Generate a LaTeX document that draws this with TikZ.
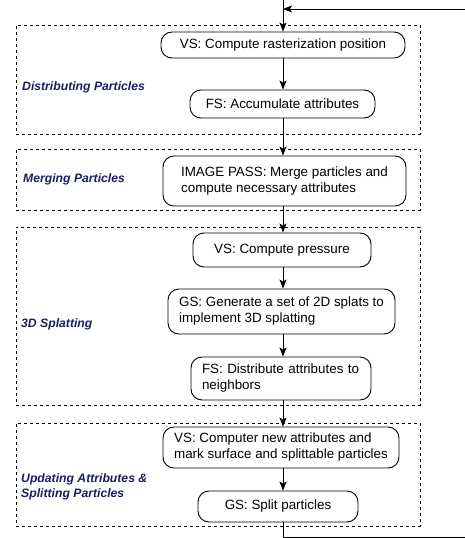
\documentclass[tikz,border=0pt]{standalone}
\usepackage{fontspec}
\setmainfont{Liberation Sans}
\usetikzlibrary{arrows.meta}
\definecolor{labelnavy}{RGB}{28,28,100}
\begin{document}
\begin{tikzpicture}[x=1pt,y=-1pt,
  stepbox/.style={draw, line width=0.9pt, rounded corners=11pt, font=\fontsize{13.4}{16}\selectfont, inner sep=0pt, align=left},
  groupbox/.style={draw, dashed, line width=0.8pt, inner sep=0pt},
  grouplabel/.style={anchor=west, font=\fontsize{12.2}{15}\selectfont\bfseries\itshape, text=labelnavy, align=left, inner sep=0pt},
  flow/.style={line width=0.9pt, -{Stealth[length=9pt,width=7pt,inset=2pt]}},
  loopline/.style={line width=0.9pt}]
\useasboundingbox (0,0) rectangle (465,538);
% groups
\node[groupbox, minimum width=404, minimum height=109] (g1) at (218,79.5) {};
\node[groupbox, minimum width=404, minimum height=61] (g2) at (218,179.5) {};
\node[groupbox, minimum width=404, minimum height=178] (g3) at (218,316) {};
\node[groupbox, minimum width=404, minimum height=103] (g4) at (218,474.5) {};
% labels
\node[grouplabel] (l1) at (22,87) {Distributing Particles};
\node[grouplabel] (l2) at (23,179) {Merging Particles};
\node[grouplabel] (l3) at (21,324) {3D Splatting};
\node[grouplabel] (l4) at (21,487) {Updating Attributes \&\\Splitting Particles};
% steps
\node[stepbox, minimum width=244, minimum height=26] (vs1) at (283,45) {VS: Compute rasterization position};
\node[stepbox, minimum width=185, minimum height=28] (fs1) at (282.5,104) {FS: Accumulate attributes};
\node[stepbox, minimum width=243, minimum height=50] (img) at (284.5,181) {IMAGE PASS: Merge particles and\\compute necessary attributes};
\node[stepbox, minimum width=178, minimum height=34] (vsp) at (282,250) {VS: Compute pressure};
\node[stepbox, minimum width=227, minimum height=45] (gs) at (281.5,311.5) {GS: Generate a set of 2D splats to\\implement 3D splatting};
\node[stepbox, minimum width=180, minimum height=43, text width=158] (fsd) at (281,378.5) {FS: Distribute attributes to\\neighbors};
\node[stepbox, minimum width=236, minimum height=41] (vsc) at (281,447.5) {VS: Computer new attributes and\\mark surface and splittable particles};
\node[stepbox, minimum width=160, minimum height=31] (gss) at (278,506.5) {GS: Split particles};
% loop points
\coordinate (top) at (283,0);
\coordinate (join) at (283,9);
\coordinate (rin) at (465,9);
\coordinate (bot) at (283,537);
\coordinate (rout) at (465,537);
% connectors
\draw[flow] (top) -- (top |- vs1.north);
\draw[flow] (rin) -- (join);
\draw[flow] (vs1.south -| top) -- (top |- fs1.north);
\draw[flow] (fs1.south -| top) -- (top |- img.north);
\draw[flow] (img.south -| top) -- (top |- vsp.north);
\draw[flow] (vsp.south -| top) -- (top |- gs.north);
\draw[flow] (gs.south -| top) -- (top |- fsd.north);
\draw[flow] (fsd.south -| top) -- (top |- vsc.north);
\draw[flow] (vsc.south -| top) -- (top |- gss.north);
\draw[loopline] (gss.south -| top) -- (bot) -- (rout);
\end{tikzpicture}
\end{document}
